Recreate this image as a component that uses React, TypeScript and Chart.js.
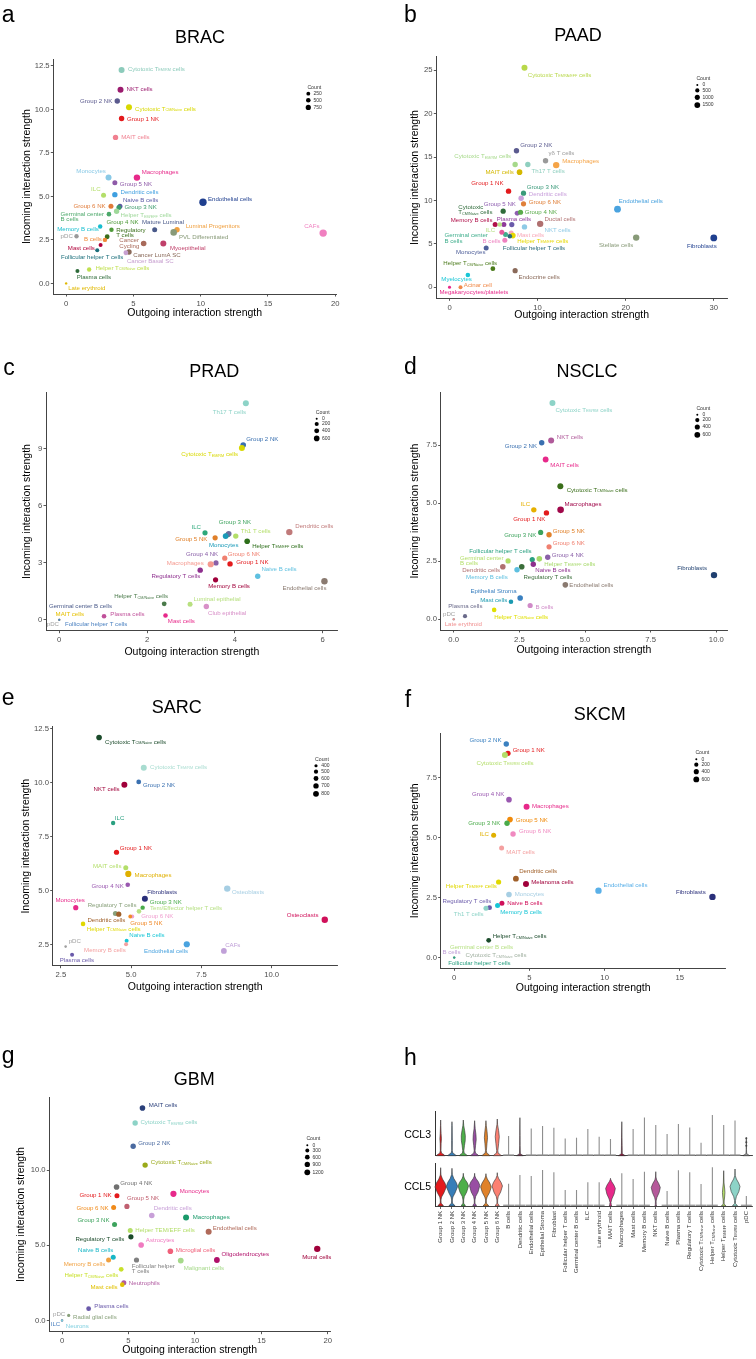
import React, { useEffect, useRef } from "react";
import { Chart, registerables } from "chart.js";
Chart.register(...registerables);

const FONT = "'Liberation Sans', Arial, Helvetica, sans-serif";
type LP = [number, number, "l" | "r"] | null;
type Rect = [number, number, number, number];

// ================= Panel a: BRAC =================
const A_CELLS = ["Cytotoxic T_{EM/RM} cells","NKT cells","Group 2 NK","Cytotoxic T_{CM/Naive} cells","Group 1 NK","MAIT cells","Monocytes","Macrophages","Group 5 NK","ILC","Dendritic cells","Endothelial cells","Group 6 NK","Naive B cells","Group 3 NK","Helper T_{EM/EFF} cells","Germinal center\nB cells","Memory B cells","Group 4 NK","Regulatory\nT cells","pDC","B cells","Mature Luminal","Luminal Progenitors","PVL Differentiated","Cancer\nCycling","Myoepithelial","Mast cells","Follicular helper T cells","Cancer LumA SC","Cancer Basal SC","Helper T_{CM/Naive} cells","Plasma cells","Late erythroid","CAFs"];
const A_OUT = [4.12,4.04,3.80,4.67,4.12,3.67,3.15,5.26,3.62,2.78,3.62,10.17,3.33,4.00,3.92,3.75,3.18,2.53,3.37,3.05,0.77,2.88,6.58,8.24,7.99,5.76,7.22,2.56,2.31,4.67,4.44,1.71,0.84,0,19.1];
const A_IN = [12.27,11.13,10.48,10.13,9.48,8.39,6.08,6.08,5.79,5.07,5.10,4.66,4.43,4.43,4.36,4.15,3.98,3.27,3.08,2.68,2.71,2.50,3.08,3.08,2.93,2.29,2.29,2.20,1.91,1.80,1.76,0.80,0.71,0,2.89];
const A_COUNT = [1190,1190,860,1190,860,860,1190,1440,670,670,860,2170,670,670,670,860,500,430,430,580,430,430,670,860,1570,960,1190,300,300,860,580,430,300,12,2170];
const A_COLORS = ["#8ccbbb","#9b1b6e","#5b5a8e","#d8d800","#e31a1c","#f08090","#89c9e6","#e7298a","#8e5aa8","#b3de69","#3f9fe0","#1f3f8f","#e07b39","#5a5aa5","#3a9a6a","#9fd89a","#4ca86a","#17becf","#4f9a3a","#3a6e1a","#9a9a9a","#f08a3a","#4a5a8a","#f0a040","#889a78","#a86a5a","#c0406a","#b0003a","#1a6e7a","#8a6a5a","#c8a0d0","#c0e050","#2e6b3a","#e0b800","#f080c0"];
const A_LABEL_POS: LP[] = [[6.3,-1,"l"],[6,0,"l"],[-5,0,"r"],[6,1.7,"l"],[5.3,0.7,"l"],[5.7,0,"l"],[-2.7,-6.3,"r"],[4.7,-5.3,"l"],[5,1.3,"l"],[-3,-6.3,"r"],[5.7,-2,"l"],[5,-2.7,"l"],[-5.3,0,"r"],[3,-5.7,"l"],[5.7,0,"l"],[4,4.3,"l"],[-5,0,"r"],[-1.3,3.3,"r"],[-5,-7.3,"l"],[9,-6.3,"l"],[-3.7,0,"r"],[-3,-0.7,"r"],[-12.7,-7.3,"l"],[8.7,-3,"l"],[5.3,4.7,"l"],[-4.3,-3,"r"],[6.7,4.3,"l"],[-5.7,3,"r"],[-36.3,7.3,"l"],[4.3,3,"l"],[1,8.3,"l"],[6.3,-1.3,"l"],[-0.7,6.7,"l"],[2,4.7,"l"],[-3.7,-6.7,"r"]];
const A_XTICKS = [0,5,10,15,20];
const A_YTICKS = [0,2.5,5,7.5,10,12.5];
const A_LEGEND = [250,500,750];

// ================= Panel b: PAAD =================
const B_CELLS = ["Cytotoxic T_{EMRA/EFF} cells","Group 2 NK","γδ T cells","Macrophages","Cytotoxic T_{EM/RM} cells","Th17 T cells","MAIT cells","Group 1 NK","Group 3 NK","Dendritic cells","Group 6 NK","Group 5 NK","Cytotoxic\nT_{CM/Naive} cells","Group 4 NK","Endothelial cells","Memory B cells","Plasma cells","ILC","","Ductal cells","NKT cells","Germinal center\nB cells","Mast cells","Helper T_{EM/EFF} cells","B cells","","Follicular helper T cells","Stellate cells","Fibroblasts","Monocytes","Helper T_{CM/Naive} cells","Endocrine cells","Myelocytes","Acinar cell","Megakaryocytes/platelets"];
const B_OUT = [8.51,7.60,10.90,12.11,7.45,8.89,7.95,6.70,8.40,8.13,8.40,7.68,6.09,8.06,19.07,5.18,6.17,5.71,7.07,10.29,8.51,6.36,7.00,7.19,6.28,5.94,6.85,21.19,30.0,4.16,4.92,7.45,2.08,1.25,0];
const B_IN = [25.31,15.73,14.58,14.08,14.15,14.15,13.27,11.08,10.85,10.27,9.62,8.54,8.77,8.65,9.0,7.23,7.23,7.23,7.23,7.31,6.96,6.08,6.27,5.96,5.42,6.35,5.88,5.73,5.69,4.54,2.15,1.92,1.42,0,0];
const B_COUNT = [1666,1204,1204,2016,1204,1204,1350,1204,1066,1204,1066,937,1066,1066,2400,937,937,704,1066,2016,1204,937,937,1350,937,937,704,2016,2400,937,816,1066,704,416,104];
const B_COLORS = ["#b8d84a","#5b5b8f","#9a9a9a","#f5a447","#a6d98a","#8fcfbf","#d4b800","#e31a1c","#3a9a7a","#c9a0dc","#e0803a","#8f5fb0","#2f6b3a","#5aab4a","#4aa3df","#b0104a","#8e3a9a","#b8e186","#6a5aaa","#b07070","#8ecae6","#3fae8c","#f7a8b8","#e6d800","#ee82c0","#e55a9a","#2a6a7a","#889a78","#1f3f8f","#50609a","#4a7a1a","#8a6a5a","#18c6d6","#f08a4a","#e7298a"];
const B_LABEL_POS: LP[] = [[3.3,7.3,"l"],[3.7,-5.7,"l"],[3,-7.3,"l"],[6,-4,"l"],[-4,-7.7,"r"],[3.7,7,"l"],[-5.7,0,"r"],[-5,-7.7,"r"],[3.3,-6,"l"],[7.7,-3.7,"l"],[5.3,-1.7,"l"],[-1.3,-9.3,"r"],[-10.7,-4,"r"],[4.3,0,"l"],[1.3,-7.7,"l"],[-2.7,-4.7,"r"],[-7,-5.3,"l"],[-4.7,6,"r"],null,[4.3,-4.3,"l"],[20,3.3,"l"],[-17.7,1,"r"],[5.7,2,"l"],[4.3,5.3,"l"],[-4.3,1,"r"],null,[-7,12,"l"],[-3,7.7,"r"],[3,8.3,"r"],[-0.7,4.7,"r"],[4.3,-5,"r"],[3.3,6.3,"l"],[4,4.3,"r"],[3.3,-1.7,"l"],[-10,5.3,"l"]];
const B_XTICKS = [0,10,20,30];
const B_YTICKS = [0,5,10,15,20,25];
const B_LEGEND = [0,500,1000,1500];

// ================= Panel c: PRAD =================
const C_CELLS = ["Th17 T cells","Group 2 NK","Cytotoxic T_{EM/RM} cells","ILC","Group 3 NK","","Th1 T cells","Monocytes","Group 5 NK","Dendritic cells","Helper T_{EM/EFF} cells","Group 4 NK","Group 6 NK","Macrophages","Group 1 NK","Naive B cells","Regulatory T cells","Memory B cells","Endothelial cells","Helper T_{CM/Naive} cells","Luminal epithelial","Club epithelial","Plasma cells","Mast cells","Germinal center B cells","MAIT cells","pDC","Follicular helper T cells"];
const C_OUT = [4.25,4.19,4.16,3.32,3.84,3.86,4.02,3.79,3.55,5.24,4.28,3.57,3.77,3.45,3.89,4.52,3.21,3.56,6.04,2.39,2.98,3.35,1.02,2.42,0,0,0,0];
const C_IN = [11.38,9.18,9.02,4.57,4.48,4.52,4.40,4.40,4.31,4.61,4.13,2.99,3.24,2.92,2.94,2.29,2.61,2.10,2.03,0.84,0.82,0.70,0.19,0.23,0,0,0,0];
const C_COUNT = [740,600,740,474,474,600,535,668,474,896,600,474,474,816,535,535,535,474,896,363,416,535,313,313,0,0,7,0];
const C_COLORS = ["#8dd3c7","#3a70b0","#d8d800","#2ca87a","#3da35d","#6b6b9e","#b3de69","#1a9ab8","#e0802a","#c07a7a","#2d6e1a","#8a60a8","#f08070","#f59a90","#e31a1c","#5ec0e0","#8e2f8e","#a0003a","#8a7a70","#4a7a4a","#b8e080","#d890c8","#c0509a","#e7298a","#4a5a8a","#e6c000","#a0a0a0","#4a80c0"];
const C_LABEL_POS: LP[] = [[-33,9,"l"],[3,-5.3,"l"],[-60.7,6.7,"l"],[-4,-5.7,"r"],[-9,-12.3,"l"],null,[5,-4.7,"l"],[-16.7,9.3,"l"],[-7.7,2,"r"],[6,-5.7,"l"],[5,4.7,"l"],[-30,-8.7,"l"],[3,-4,"l"],[-7,-1.3,"r"],[6.3,-1.3,"l"],[3.7,-7,"l"],[0,6.3,"r"],[-7.3,6.3,"l"],[-42,7.3,"l"],[-50,-7.3,"l"],[3.3,-5.3,"l"],[1.7,6.7,"l"],[6.3,-1.7,"l"],[2.3,5.7,"l"],[-10.3,-13.3,"l"],[-3.7,-5.7,"l"],[-0.3,4.3,"r"],[5.7,4.3,"l"]];
const C_XTICKS = [0,2,4,6];
const C_YTICKS = [0,3,6,9];
const C_LEGEND = [0,200,400,600];

// ================= Panel d: NSCLC =================
const D_CELLS = ["Cytotoxic T_{EM/RM} cells","NKT cells","Group 2 NK","MAIT cells","Cytotoxic T_{CM/Naive} cells","ILC","Macrophages","Group 1 NK","Group 3 NK","Group 5 NK","Group 6 NK","Follicular helper T cells","Germinal center\nB cells","Helper T_{EM/EFF} cells","Group 4 NK","Dendritic cells","Regulatory T cells","Naive B cells","Memory B cells","Endothelial cells","Fibroblasts","Epithelial Stroma","Mast cells","B cells","Plasma cells","Helper T_{CM/Naive} cells","pDC","Late erythroid"];
const D_OUT = [3.76,3.71,3.35,3.50,4.06,3.05,4.07,3.53,3.31,3.63,3.63,2.99,2.07,3.26,3.58,1.87,2.59,3.03,2.41,4.25,9.91,2.53,2.18,2.91,0.43,1.54,0,0];
const D_IN = [9.31,7.70,7.60,6.88,5.73,4.71,4.71,4.58,3.74,3.64,3.12,2.57,2.51,2.60,2.67,2.26,2.26,2.37,2.13,1.48,1.90,0.91,0.75,0.59,0.13,0.40,0,0];
const D_COUNT = [664,664,480,600,664,480,878,480,425,480,425,425,425,538,480,538,538,480,480,538,804,538,281,425,200,281,7,0];
const D_COLORS = ["#8dd3c7","#b05a9a","#3a70b0","#e7298a","#3a6e1a","#e6b000","#a0084a","#e31a1c","#3da35d","#e0802a","#f08070","#2aa080","#b3de69","#a6d96a","#8a60a8","#b07070","#3a6e3a","#8e2f8e","#5ec0e0","#8a7a70","#1f3f6f","#3a80c0","#1a9ab0","#d08ac8","#6a6a8a","#e0e000","#a0a0a0","#f09090"];
const D_LABEL_POS: LP[] = [[3,7,"l"],[5.7,-3,"l"],[-4.7,4,"r"],[4.7,6,"l"],[6.3,4,"l"],[-3.7,-5.7,"r"],[4,-5.7,"l"],[-1,6.3,"r"],[-4.3,2.7,"r"],[3.7,-3.3,"l"],[3.7,-3,"l"],[-0.7,-8.7,"r"],[-48,-3,"l"],[5,5,"l"],[4,-2.3,"l"],[-2.7,4,"r"],[1.7,10.3,"l"],[2,5.7,"l"],[-9.3,7.3,"r"],[4,0,"l"],[-7,-6.7,"r"],[-49.7,-6.7,"l"],[-3.7,-1.3,"r"],[5.3,2,"l"],[-16.7,-9.7,"l"],[0,7,"l"],[-10.7,-4.7,"l"],[-9,5.3,"l"]];
const D_XTICKS = [0,2.5,5,7.5,10];
const D_YTICKS = [0,2.5,5,7.5];
const D_LEGEND = [0,200,400,600];

// ================= Panel e: SARC =================
const E_CELLS = ["Cytotoxic T_{CM/Naive} cells","Cytotoxic T_{EM/RM} cells","NKT cells","Group 2 NK","ILC","Group 1 NK","MAIT cells","Macrophages","Group 4 NK","Fibroblasts","Osteoblasts","Group 3 NK","Tem/Effector helper T cells","Regulatory T cells","Dendritic cells","Group 6 NK","Group 5 NK","Monocytes","Osteoclasts","Helper T_{CM/Naive} cells","Naive B cells","Memory B cells","Endothelial cells","CAFs","pDC","Plasma cells"];
const E_OUT = [3.86,5.45,4.76,5.27,4.36,4.48,4.81,4.90,4.88,5.49,8.42,5.41,5.28,4.44,4.56,5.04,4.97,3.03,11.89,3.29,4.84,4.82,6.98,8.30,2.67,2.90];
const E_IN = [12.08,10.68,9.90,10.03,8.13,6.78,6.06,5.78,5.28,4.63,5.10,4.22,4.05,3.95,3.92,3.81,3.81,4.22,3.66,3.47,2.69,2.53,2.53,2.22,2.42,2.04];
const E_COUNT = [752,850,850,589,525,665,625,904,556,850,960,525,556,625,665,473,451,665,960,556,473,473,904,800,381,473];
const E_COLORS = ["#1a4a2a","#a8dcd0","#a0003a","#3a70b0","#2aa080","#e31a1c","#b3de69","#e0b000","#9a58b0","#2a2f7a","#a6cee3","#4aab4a","#b8e186","#88a07a","#a0602a","#f0a0d0","#f08a2a","#e7298a","#d0105a","#e0d800","#18c6d6","#f4a0a0","#4aa3df","#c0a0d8","#a0a0a0","#6a5aaa"];
const E_LABEL_POS: LP[] = [[6,4.7,"l"],[6.3,-1,"l"],[-4.7,4.3,"r"],[4.3,3,"l"],[1.7,-5,"l"],[3.3,-3.7,"l"],[-4.3,-2,"r"],[6.3,1,"l"],[-4,1.3,"r"],[2.3,-6.3,"l"],[4.7,4,"l"],[7,-5.7,"l"],[11,-3,"l"],[-27.7,-8.3,"l"],[-31.3,6.3,"l"],[9,-0.7,"l"],[0,6.3,"l"],[-20.3,-7.3,"l"],[-6.3,-4.7,"r"],[3.7,5.3,"l"],[2.7,-5.3,"l"],[-0.3,6.3,"r"],[-42.7,7.3,"l"],[1.3,-5.3,"l"],[3,-5,"l"],[-12.3,5.7,"l"]];
const E_XTICKS = [2.5,5,7.5,10];
const E_YTICKS = [2.5,5,7.5,10,12.5];
const E_LEGEND = [400,500,600,700,800];

// ================= Panel f: SKCM =================
const F_CELLS = ["Group 2 NK","Group 1 NK","Cytotoxic T_{EM/RM} cells","Group 4 NK","Macrophages","Group 5 NK","Group 3 NK","Group 6 NK","ILC","MAIT cells","Dendritic cells","Melanoma cells","Helper T_{EM/EFF} cells","Endothelial cells","Fibroblasts","Monocytes","Regulatory T cells","Naive B cells","Th1 T cells","Memory B cells","Helper T_{CM/Naive} cells","Germinal center B cells","B cells","Cytotoxic T_{CM/Naive} cells","Follicular helper T cells"];
const F_OUT = [3.46,3.57,3.37,3.64,4.81,3.71,3.51,3.91,2.62,3.15,4.10,4.77,2.95,9.59,17.17,3.64,2.35,3.17,2.11,2.88,2.29,0,0,0,0];
const F_IN = [8.90,8.51,8.44,6.58,6.29,5.75,5.60,5.15,5.10,4.57,3.29,3.07,3.15,2.79,2.53,2.63,2.08,2.26,2.06,2.17,0.72,0,0,0,0];
const F_COUNT = [480,480,664,538,664,538,480,480,374,374,600,664,425,804,804,538,326,374,374,374,326,0,0,0,7];
const F_COLORS = ["#3a80c0","#e31a1c","#b3de69","#9a58b0","#e7298a","#f08a0a","#4aab4a","#f08ac0","#e0b000","#f4a0a0","#a0602a","#a0003a","#e0d800","#5ab0e8","#2a2f7a","#a6cee3","#6a5aaa","#d0105a","#8dd3c7","#18c6d6","#1a4a2a","#b8e186","#c0a0d8","#a0b0a0","#2aa080"];
const F_LABEL_POS: LP[] = [[-4.7,-3.7,"r"],[4.7,-2.7,"l"],[-28.3,8,"l"],[-4.7,-5,"r"],[5.3,-0.7,"l"],[5.7,1,"l"],[-6.7,0,"r"],[6,-2.7,"l"],[-4.7,-1,"r"],[4.7,4.7,"l"],[3.3,-7.3,"l"],[5.3,-2,"l"],[-1.7,4,"r"],[5,-5.7,"l"],[-6.7,-4.3,"r"],[5.7,0,"l"],[-47,-6.3,"l"],[5.3,0.3,"l"],[-2.3,6.3,"r"],[2.7,6.3,"l"],[4,-3.7,"l"],[-4.3,-10.7,"l"],[-11.7,-5,"l"],[11.3,-2,"l"],[-6,6,"l"]];
const F_XTICKS = [0,5,10,15];
const F_YTICKS = [0,2.5,5,7.5];
const F_LEGEND = [0,200,400,600];

// ================= Panel g: GBM =================
const G_CELLS = ["MAIT cells","Cytotoxic T_{EM/RM} cells","Group 2 NK","Cytotoxic T_{CM/Naive} cells","Group 4 NK","Monocytes","Group 1 NK","Group 5 NK","Group 6 NK","Dendritic cells","Macrophages","Group 3 NK","Helper TEM/EFF cells","Endothelial cells","Regulatory T cells","Astrocytes","Naive B cells","Microglial cells","Oligodendrocytes","Mural cells","Memory B cells","Follicular helper\nT cells","Malignant cells","Helper T_{CM/Naive} cells","Neutrophils","Mast cells","Plasma cells","Radial glial cells","pDC","ILC","Neurons"];
const G_OUT = [6.05,5.50,5.35,6.25,4.10,8.38,4.13,4.88,3.88,6.75,9.33,3.95,5.13,11.03,5.18,5.95,3.85,8.15,11.65,19.20,3.50,5.60,8.93,4.45,4.65,4.53,2.00,0.50,0,0,0];
const G_IN = [14.13,13.13,11.58,10.33,8.87,8.42,8.29,7.58,7.51,6.98,6.84,6.38,5.98,5.89,5.56,5.02,4.20,4.60,4.02,4.76,4.02,4.02,3.98,3.40,2.51,2.38,0.78,0.33,0,0,0];
const G_COUNT = [1071,955,955,955,1071,1458,744,846,744,1071,1322,744,744,1322,846,1071,744,1071,1193,1600,744,846,1193,648,744,559,648,119,30,0,0];
const G_COLORS = ["#2a3f7a","#8dd3c7","#4a6aa0","#9aaa1a","#707070","#e7298a","#e31a1c","#c06070","#f08a1a","#c8a0d8","#1a9a6a","#3da35d","#b3de69","#b06a5a","#1a4a2a","#f07ac0","#18b6c6","#f0607a","#b0106a","#a0003a","#f0a040","#808080","#a6d98a","#c8e02a","#b05aa0","#e0c000","#6a5aaa","#88a07a","#a0a0a0","#4a80c0","#80d0e0"];
const G_LABEL_POS: LP[] = [[6.3,-3,"l"],[5.3,-0.7,"l"],[5,-3.3,"l"],[5.7,-2.3,"l"],[3.7,-4,"l"],[6.3,-3,"l"],[-5.3,0,"r"],[0,-7.7,"l"],[-5,0.7,"r"],[2,-7.3,"l"],[6.7,-0.7,"l"],[-5,-4.3,"r"],[5,0,"l"],[4,-3.7,"l"],[-6.7,2,"r"],[4.7,-4.7,"l"],[0,-7.3,"r"],[5.3,-0.7,"l"],[4.7,-5.3,"l"],[-15,8,"l"],[-3.3,4,"r"],[-4.7,6.3,"l"],[3,7.7,"l"],[-56.7,6.3,"l"],[5,0.3,"l"],[-4.7,2.7,"r"],[5.7,-2.3,"l"],[4.3,2.3,"l"],[-9,-6.3,"l"],[-11.3,4.3,"l"],[3.7,6,"l"]];
const G_XTICKS = [0,5,10,15,20];
const G_YTICKS = [0,5,10];
const G_LEGEND = [0,300,600,900,1200];

// ================= Panel h: violins =================
const H_CELLS = ["Group 1 NK","Group 2 NK","Group 3 NK","Group 4 NK","Group 5 NK","Group 6 NK","B cells","Dendritic cells","Endothelial cells","Epithelial Stroma","Fibroblast","Follicular helper T cells","Germinal center B cells","ILC","Late erythroid","MAIT cells","Macrophages","Mast cells","Memory B cells","NKT cells","Naive B cells","Plasma cells","Regulatory T cells","Cytotoxic T_{CM/Naive} cells","Helper T_{CM/Naive} cells","Helper T_{EM/EFF} cells","Cytotoxic T_{EM/RM} cells","pDC"];
const CCL3_MAX = [3.57,3.40,3.57,3.50,3.50,3.67,1.97,3.80,2.73,2.97,2.80,1.73,1.80,2.67,1.90,1.67,3.40,2.67,3.83,3.07,2.17,3.17,2.83,1.30,4.07,3.07,3.53,1.80];
const CCL5_MAX = [3.83,3.77,3.27,3.27,3.23,3.33,2.23,3.10,3.00,3.60,3.37,1.60,1.60,2.37,2.37,2.77,3.27,2.70,3.43,3.43,1.50,3.57,3.37,2.20,3.87,3.53,3.70,1.00];
const H_COLORS = ["#e41a1c","#377eb8","#4daf4a","#984ea3","#e0822a","#fb8072","#9a9a9a","#7d3a55","#9a9a9a","#9a9a9a","#9a9a9a","#9a9a9a","#9a9a9a","#9a9a9a","#9a9a9a","#e7298a","#8b1a3a","#9a9a9a","#9a9a9a","#b5599a","#9a9a9a","#9a9a9a","#9a9a9a","#9a9a9a","#9a9a9a","#b3de69","#8dd3c7","#9a9a9a"];
// density outlines: [expression value, half width as a fraction of the category slot]
const CCL3_G1 = [[0,0.38],[0.1,0.3],[0.25,0.08],[0.5,0.03],[1.2,0.04],[1.7,0.07],[2.2,0.04],[3.0,0.015]];
const CCL3_G2 = [[0,0.38],[0.1,0.3],[0.25,0.08],[0.5,0.025],[1.5,0.03],[3.0,0.015]];
const CCL3_G3 = [[0,0.36],[0.1,0.28],[0.25,0.08],[0.5,0.05],[1.0,0.1],[1.5,0.17],[2.0,0.18],[2.5,0.12],[3.0,0.04]];
const CCL3_G4 = [[0,0.36],[0.1,0.28],[0.25,0.08],[0.5,0.04],[1.0,0.08],[1.6,0.14],[2.1,0.12],[2.7,0.05]];
const CCL3_G5 = [[0,0.36],[0.1,0.28],[0.25,0.08],[0.5,0.04],[1.2,0.09],[1.8,0.14],[2.4,0.1],[3.0,0.03]];
const CCL3_G6 = [[0,0.36],[0.1,0.28],[0.25,0.08],[0.5,0.05],[1.2,0.12],[1.9,0.18],[2.5,0.12],[3.1,0.03]];
const CCL3_DC = [[0,0.28],[0.08,0.2],[0.2,0.04],[1.0,0.02],[2.0,0.015]];
const CCL3_MAC = [[0,0.3],[0.08,0.2],[0.2,0.04],[1.0,0.03],[1.8,0.02]];
const CCL3_PDC = [[0,0.3],[0.08,0.2],[0.2,0.03],[0.6,0.015]];
const CCL3_PDC_OUTLIERS = [1.75,1.35,1.0];
const CCL5_G1 = [[0,0.24],[0.12,0.18],[0.27,0.04],[0.6,0.03],[0.9,0.08],[1.3,0.28],[1.9,0.5],[2.3,0.38],[2.7,0.16],[3.1,0.03],[3.4,0.015]];
const CCL5_G2 = [[0,0.26],[0.12,0.2],[0.27,0.04],[0.6,0.03],[0.9,0.08],[1.3,0.27],[1.95,0.5],[2.35,0.38],[2.75,0.16],[3.15,0.03],[3.4,0.015]];
const CCL5_G3 = [[0,0.18],[0.12,0.13],[0.27,0.03],[0.6,0.03],[0.95,0.09],[1.4,0.3],[2.0,0.46],[2.35,0.34],[2.7,0.12],[3.0,0.02]];
const CCL5_G4 = [[0,0.16],[0.12,0.12],[0.27,0.03],[0.6,0.03],[0.95,0.09],[1.4,0.3],[2.05,0.46],[2.4,0.34],[2.75,0.12],[3.0,0.02]];
const CCL5_G5 = [[0,0.24],[0.12,0.18],[0.27,0.04],[0.6,0.03],[0.9,0.1],[1.35,0.32],[1.9,0.47],[2.3,0.34],[2.7,0.12],[3.0,0.02]];
const CCL5_G6 = [[0,0.18],[0.12,0.13],[0.27,0.03],[0.6,0.03],[0.95,0.09],[1.4,0.3],[2.0,0.46],[2.35,0.34],[2.75,0.12],[3.05,0.02]];
const CCL5_MAIT = [[0,0.1],[0.15,0.07],[0.35,0.04],[0.7,0.12],[1.2,0.32],[1.75,0.43],[2.1,0.3],[2.45,0.1],[2.65,0.02]];
const CCL5_NKT = [[0,0.07],[0.15,0.04],[0.5,0.03],[0.85,0.1],[1.35,0.3],[1.85,0.4],[2.25,0.26],[2.6,0.08],[2.9,0.02]];
const CCL5_HTEM = [[0,0.2],[0.08,0.14],[0.2,0.04],[0.5,0.04],[0.9,0.08],[1.35,0.11],[1.8,0.08],[2.3,0.03]];
const CCL5_CTEM = [[0,0.22],[0.1,0.16],[0.25,0.04],[0.55,0.04],[0.95,0.12],[1.45,0.34],[1.95,0.44],[2.3,0.32],[2.7,0.12],[3.05,0.02]];
const CCL3_SHAPES = [CCL3_G1,CCL3_G2,CCL3_G3,CCL3_G4,CCL3_G5,CCL3_G6,null,CCL3_DC,null,null,null,null,null,null,null,null,CCL3_MAC,null,null,null,null,null,null,null,null,null,null,CCL3_PDC];
const CCL5_SHAPES = [CCL5_G1,CCL5_G2,CCL5_G3,CCL5_G4,CCL5_G5,CCL5_G6,null,null,null,null,null,null,null,null,null,CCL5_MAIT,null,null,null,CCL5_NKT,null,null,null,null,null,CCL5_HTEM,CCL5_CTEM,null];

// ================= drawing helpers =================
const LABEL_SIZE = 6.1;
const LINE_H = 5.3;

function parseRich(line: string) {
  const segs: { t: string; sub: boolean }[] = [];
  const re = /_\{([^}]*)\}/g;
  let last = 0;
  let m: RegExpExecArray | null;
  while ((m = re.exec(line))) {
    if (m.index > last) segs.push({ t: line.slice(last, m.index), sub: false });
    segs.push({ t: m[1], sub: true });
    last = m.index + m[0].length;
  }
  if (last < line.length) segs.push({ t: line.slice(last), sub: false });
  return segs;
}
function richWidth(ctx: CanvasRenderingContext2D, segs: any[], size: number) {
  let w = 0;
  for (const s of segs) {
    ctx.font = `${s.sub ? size * 0.62 : size}px ${FONT}`;
    w += ctx.measureText(s.t).width;
  }
  return w;
}
function drawRich(ctx: CanvasRenderingContext2D, text: string, x: number, y: number, align: string, size: number, color: string, lineH: number) {
  const lines = text.split("\n").map(parseRich);
  const widths = lines.map((s) => richWidth(ctx, s, size));
  const maxW = Math.max(...widths);
  ctx.save();
  ctx.fillStyle = color;
  ctx.textBaseline = "middle";
  ctx.textAlign = "left";
  lines.forEach((segs, i) => {
    let cx = x;
    if (align === "r") cx = lines.length > 1 ? x - maxW : x - widths[i];
    else if (align === "c") cx = x - widths[i] / 2;
    const cy = y + i * lineH;
    for (const s of segs) {
      const fs = s.sub ? size * 0.62 : size;
      ctx.font = `${fs}px ${FONT}`;
      ctx.fillText(s.t, cx, cy + (s.sub ? size * 0.2 : 0));
      cx += ctx.measureText(s.t).width;
    }
  });
  ctx.restore();
}
function txt(ctx: CanvasRenderingContext2D, s: string, x: number, y: number, size: number, align: CanvasTextAlign, baseline: CanvasTextBaseline, color: string) {
  ctx.save();
  ctx.font = `${size}px ${FONT}`;
  ctx.textAlign = align;
  ctx.textBaseline = baseline;
  ctx.fillStyle = color;
  ctx.fillText(s, x, y);
  ctx.restore();
}

// ================= scatter panels =================
interface ScatterPanel {
  canvas: Rect; area: Rect; yTitleX: number; xTitleY: number;
  letter: string; letterPos: [number, number]; title: string; titlePos: [number, number];
  xRange: [number, number]; yRange: [number, number];
  xTicks: number[]; yTicks: number[]; xDec: number; yDec: number;
  names: string[]; xs: number[]; ys: number[]; counts: number[];
  colors: string[]; labels: LP[]; legend: number[]; legendPos: [number, number];
  size: [number, number, number];
}

const PANELS: ScatterPanel[] = [
  { canvas: [0, 0, 378, 330], area: [53.3, 59.3, 336, 294], yTitleX: 26.7, xTitleY: 313.3, letter: "a", letterPos: [1.7, 21.7], title: "BRAC", titlePos: [200, 43.3], xRange: [-0.955, 20.055], yRange: [-0.61, 12.88], xTicks: A_XTICKS, yTicks: A_YTICKS, xDec: 0, yDec: 1, names: A_CELLS, xs: A_OUT, ys: A_IN, counts: A_COUNT, colors: A_COLORS, labels: A_LABEL_POS, legend: A_LEGEND, legendPos: [308.3, 93.7], size: [1, 0.058, 0] },
  { canvas: [378, 0, 378, 330], area: [436.3, 56.7, 727, 298.3], yTitleX: 414.7, xTitleY: 315, letter: "b", letterPos: [404, 21.7], title: "PAAD", titlePos: [578, 40.7], xRange: [-1.5, 31.5], yRange: [-1.265, 26.57], xTicks: B_XTICKS, yTicks: B_YTICKS, xDec: 0, yDec: 0, names: B_CELLS, xs: B_OUT, ys: B_IN, counts: B_COUNT, colors: B_COLORS, labels: B_LABEL_POS, legend: B_LEGEND, legendPos: [697.3, 85], size: [1, 0.049, 0] },
  { canvas: [0, 330, 378, 335], area: [46, 392.3, 337.7, 630.7], yTitleX: 26.7, xTitleY: 652.3, letter: "c", letterPos: [3.3, 375], title: "PRAD", titlePos: [214.3, 377.3], xRange: [-0.302, 6.342], yRange: [-0.569, 11.95], xTicks: C_XTICKS, yTicks: C_YTICKS, xDec: 0, yDec: 0, names: C_CELLS, xs: C_OUT, ys: C_IN, counts: C_COUNT, colors: C_COLORS, labels: C_LABEL_POS, legend: C_LEGEND, legendPos: [316.7, 418.7], size: [1, 0.0735, 0] },
  { canvas: [378, 330, 378, 335], area: [440.7, 392.3, 727, 630], yTitleX: 415.3, xTitleY: 650, letter: "d", letterPos: [404, 374.3], title: "NSCLC", titlePos: [587, 377.3], xRange: [-0.4955, 10.4055], yRange: [-0.4655, 9.7755], xTicks: D_XTICKS, yTicks: D_YTICKS, xDec: 1, yDec: 1, names: D_CELLS, xs: D_OUT, ys: D_IN, counts: D_COUNT, colors: D_COLORS, labels: D_LABEL_POS, legend: D_LEGEND, legendPos: [697.3, 414.7], size: [1, 0.0776, 0] },
  { canvas: [0, 665, 378, 335], area: [52.7, 726.7, 337.7, 965.7], yTitleX: 26, xTitleY: 987.3, letter: "e", letterPos: [1.7, 705], title: "SARC", titlePos: [176.7, 713.3], xRange: [2.21, 12.35], yRange: [1.538, 12.58], xTicks: E_XTICKS, yTicks: E_YTICKS, xDec: 1, yDec: 1, names: E_CELLS, xs: E_OUT, ys: E_IN, counts: E_COUNT, colors: E_COLORS, labels: E_LABEL_POS, legend: E_LEGEND, legendPos: [316, 765.7], size: [1.2, 0.083, 380] },
  { canvas: [378, 665, 378, 335], area: [440.7, 733.3, 725.7, 968.3], yTitleX: 414.7, xTitleY: 987.7, letter: "f", letterPos: [404.7, 706.7], title: "SKCM", titlePos: [599.7, 720], xRange: [-0.9, 18.05], yRange: [-0.445, 9.345], xTicks: F_XTICKS, yTicks: F_YTICKS, xDec: 0, yDec: 1, names: F_CELLS, xs: F_OUT, ys: F_IN, counts: F_COUNT, colors: F_COLORS, labels: F_LABEL_POS, legend: F_LEGEND, legendPos: [696.3, 759.3], size: [1, 0.0776, 0] },
  { canvas: [0, 1000, 378, 359], area: [49.3, 1097.3, 330, 1331.7], yTitleX: 20.7, xTitleY: 1350, letter: "g", letterPos: [1.7, 1063], title: "GBM", titlePos: [194.3, 1085], xRange: [-0.96, 20.16], yRange: [-0.75, 14.84], xTicks: G_XTICKS, yTicks: G_YTICKS, xDec: 0, yDec: 1, names: G_CELLS, xs: G_OUT, ys: G_IN, counts: G_COUNT, colors: G_COLORS, labels: G_LABEL_POS, legend: G_LEGEND, legendPos: [307.3, 1145.3], size: [1, 0.055, 0] },
];

function makeScatter(p: ScatterPanel): any {
  const [cx, cy, cw, ch] = p.canvas;
  const [L, T, R, B] = p.area;
  const TF = 10.5;
  const lh = TF * 1.2;
  const padLeft = p.yTitleX - lh / 2 - cx;
  const yW = L - cx - padLeft;
  const xBot = p.xTitleY + lh / 2;
  const padBottom = cy + ch - xBot;
  const xH = xBot - B;
  const sz = (c: number) => p.size[0] + p.size[1] * Math.sqrt(Math.max(0, c - p.size[2]));
  const axis = (ticks: number[], dec: number, title: string, fit: (s: any) => void, pad: number, range: [number, number]) => ({
    type: "linear",
    min: range[0],
    max: range[1],
    afterBuildTicks: (s: any) => { s.ticks = ticks.map((v) => ({ value: v })); },
    afterFit: fit,
    ticks: { callback: (v: any) => Number(v).toFixed(dec), font: { size: 7.7, family: FONT }, color: "#4d4d4d", autoSkip: false, maxRotation: 0, minRotation: 0, padding: pad },
    grid: { drawOnChartArea: false, drawTicks: true, tickLength: 2.5, color: "#444", lineWidth: 0.9 },
    border: { display: true, color: "#444", width: 1 },
    title: { display: true, text: title, font: { size: TF, family: FONT }, color: "#000", padding: 0 },
  });
  const decor = {
    id: "decor",
    afterDatasetsDraw(chart: any) {
      const ctx = chart.ctx;
      const xs = chart.scales.x, ys = chart.scales.y;
      p.names.forEach((n, i) => {
        const lp = p.labels[i];
        if (!lp || !n) return;
        const px = xs.getPixelForValue(p.xs[i]);
        const py = ys.getPixelForValue(p.ys[i]);
        drawRich(ctx, n, px + lp[0], py + lp[1], lp[2], LABEL_SIZE, p.colors[i], LINE_H);
      });
    },
    afterDraw(chart: any) {
      const ctx = chart.ctx;
      txt(ctx, p.letter, p.letterPos[0] - cx, p.letterPos[1] - cy, 23, "left", "alphabetic", "#000");
      txt(ctx, p.title, p.titlePos[0] - cx, p.titlePos[1] - cy, 18, "center", "alphabetic", "#000");
      const lx = p.legendPos[0] - cx;
      let y = p.legendPos[1] - cy;
      txt(ctx, "Count", lx + 6, y - 6.5, 5.2, "center", "middle", "#333");
      let prev = 0;
      p.legend.forEach((v, i) => {
        const r = sz(v);
        if (i) y += prev + r + 2.3;
        ctx.beginPath();
        ctx.arc(lx, y, r, 0, Math.PI * 2);
        ctx.fillStyle = "#000";
        ctx.fill();
        txt(ctx, String(v), lx + 5.2, y, 5, "left", "middle", "#333");
        prev = r;
      });
    },
  };
  return {
    type: "scatter",
    data: {
      datasets: [{
        data: p.xs.map((x, i) => ({ x, y: p.ys[i] })),
        pointRadius: p.counts.map(sz),
        pointHoverRadius: p.counts.map(sz),
        pointBackgroundColor: p.colors,
        pointBorderWidth: 0,
        pointBorderColor: "rgba(0,0,0,0)",
      }],
    },
    options: {
      responsive: false,
      animation: false,
      events: [],
      layout: { padding: { left: padLeft, right: cx + cw - R, top: T - cy, bottom: padBottom } },
      plugins: { legend: { display: false }, tooltip: { enabled: false }, title: { display: false } },
      scales: {
        x: axis(p.xTicks, p.xDec, "Outgoing interaction strength", (s: any) => { s.height = xH; }, 2.5, p.xRange),
        y: axis(p.yTicks, p.yDec, "Incoming interaction strength", (s: any) => { s.width = yW; }, 1.2, p.yRange),
      },
    },
    plugins: [decor],
  };
}

// ================= violin panels =================
interface ViolinPanel {
  canvas: Rect; area: Rect; gene: string; geneY: number;
  maxArr: number[]; shapes: (number[][] | null)[]; yMax: number;
  showLabels: boolean; letter?: boolean; outliers?: number[];
}

function makeViolin(v: ViolinPanel): any {
  const [cx, cy, cw, ch] = v.canvas;
  const [L, T, R, B] = v.area;
  const xH = v.showLabels ? 3 : 0;
  const plugin = {
    id: "violins",
    afterDatasetsDraw(chart: any) {
      const ctx = chart.ctx;
      const xs = chart.scales.x, ys = chart.scales.y;
      const sp = xs.getPixelForValue(1) - xs.getPixelForValue(0);
      const base = ys.getPixelForValue(0);
      H_CELLS.forEach((_, i) => {
        const px = xs.getPixelForValue(i);
        const top = ys.getPixelForValue(v.maxArr[i]);
        const prof = v.shapes[i];
        ctx.save();
        if (!prof) {
          ctx.fillStyle = "#9c9c9c";
          ctx.fillRect(px - 0.48 * sp, base - 1.4, 0.96 * sp, 1.4);
          ctx.strokeStyle = "#8e8e8e";
          ctx.lineWidth = 1.1;
          ctx.beginPath();
          ctx.moveTo(px, base);
          ctx.lineTo(px, top);
          ctx.stroke();
        } else {
          const pts = [...prof, [v.maxArr[i], 0]];
          ctx.beginPath();
          pts.forEach(([val, w], j) => {
            const X = px + w * sp, Y = ys.getPixelForValue(val);
            if (j) ctx.lineTo(X, Y); else ctx.moveTo(X, Y);
          });
          for (let j = pts.length - 1; j >= 0; j--) {
            const [val, w] = pts[j];
            ctx.lineTo(px - w * sp, ys.getPixelForValue(val));
          }
          ctx.closePath();
          ctx.fillStyle = H_COLORS[i];
          ctx.fill();
          ctx.strokeStyle = "#333";
          ctx.lineWidth = 0.6;
          ctx.stroke();
          if (i === H_CELLS.length - 1 && v.outliers) {
            ctx.fillStyle = "#444";
            v.outliers.forEach((o) => {
              ctx.beginPath();
              ctx.arc(px, ys.getPixelForValue(o), 1, 0, Math.PI * 2);
              ctx.fill();
            });
          }
        }
        ctx.restore();
      });
    },
    afterDraw(chart: any) {
      const ctx = chart.ctx;
      txt(ctx, v.gene, 431 - cx, v.geneY - cy, 10.5, "right", "middle", "#000");
      if (v.letter) txt(ctx, "h", 404 - cx, 1065 - cy, 23, "left", "alphabetic", "#000");
      if (v.showLabels) {
        const xs = chart.scales.x;
        const base = B - cy;
        H_CELLS.forEach((n, i) => {
          const px = xs.getPixelForValue(i);
          ctx.save();
          ctx.translate(px, base + 5);
          ctx.rotate(-Math.PI / 2);
          drawRich(ctx, n, 0, 0, "r", 6, "#333", 0);
          ctx.restore();
        });
      }
    },
  };
  return {
    type: "bar",
    data: { labels: H_CELLS, datasets: [{ data: H_CELLS.map(() => 0), backgroundColor: "rgba(0,0,0,0)" }] },
    options: {
      responsive: false,
      animation: false,
      events: [],
      layout: { padding: { left: L - cx, right: cx + cw - R, top: T - cy, bottom: cy + ch - B - xH } },
      plugins: { legend: { display: false }, tooltip: { enabled: false } },
      scales: {
        x: {
          type: "category",
          offset: true,
          afterFit: (s: any) => { s.height = xH; },
          ticks: { display: false },
          grid: { display: v.showLabels, drawOnChartArea: false, drawTicks: true, tickLength: 3, offset: false, color: "#444", lineWidth: 0.8 },
          border: { display: true, color: "#444", width: 1 },
        },
        y: {
          min: 0,
          max: v.yMax,
          afterFit: (s: any) => { s.width = 0; },
          ticks: { display: false },
          grid: { display: false },
          border: { display: true, color: "#333", width: 1 },
        },
      },
    },
    plugins: [plugin],
  };
}

const H3: ViolinPanel = { canvas: [378, 1000, 378, 158], area: [435, 1111.7, 752, 1155.7], gene: "CCL3", geneY: 1135, maxArr: CCL3_MAX, shapes: CCL3_SHAPES, yMax: 4.4, showLabels: false, letter: true, outliers: CCL3_PDC_OUTLIERS };
const H5: ViolinPanel = { canvas: [378, 1158, 378, 201], area: [435, 1163.3, 752, 1206], gene: "CCL5", geneY: 1186.7, maxArr: CCL5_MAX, shapes: CCL5_SHAPES, yMax: 4.27, showLabels: true };

function ChartCanvas({ rect, make }: { rect: Rect; make: () => any }) {
  const ref = useRef<HTMLCanvasElement>(null);
  useEffect(() => {
    const chart = new Chart(ref.current as HTMLCanvasElement, make());
    return () => chart.destroy();
  }, []);
  return (
    <canvas
      ref={ref}
      width={rect[2]}
      height={rect[3]}
      style={{ position: "absolute", left: rect[0], top: rect[1], width: rect[2], height: rect[3] }}
    />
  );
}

export default function App() {
  return (
    <div style={{ position: "absolute", left: 0, top: 0, width: 756, height: 1359, background: "#fff", overflow: "hidden" }}>
      {PANELS.map((p, i) => (
        <ChartCanvas key={i} rect={p.canvas} make={() => makeScatter(p)} />
      ))}
      <ChartCanvas rect={H3.canvas} make={() => makeViolin(H3)} />
      <ChartCanvas rect={H5.canvas} make={() => makeViolin(H5)} />
    </div>
  );
}
